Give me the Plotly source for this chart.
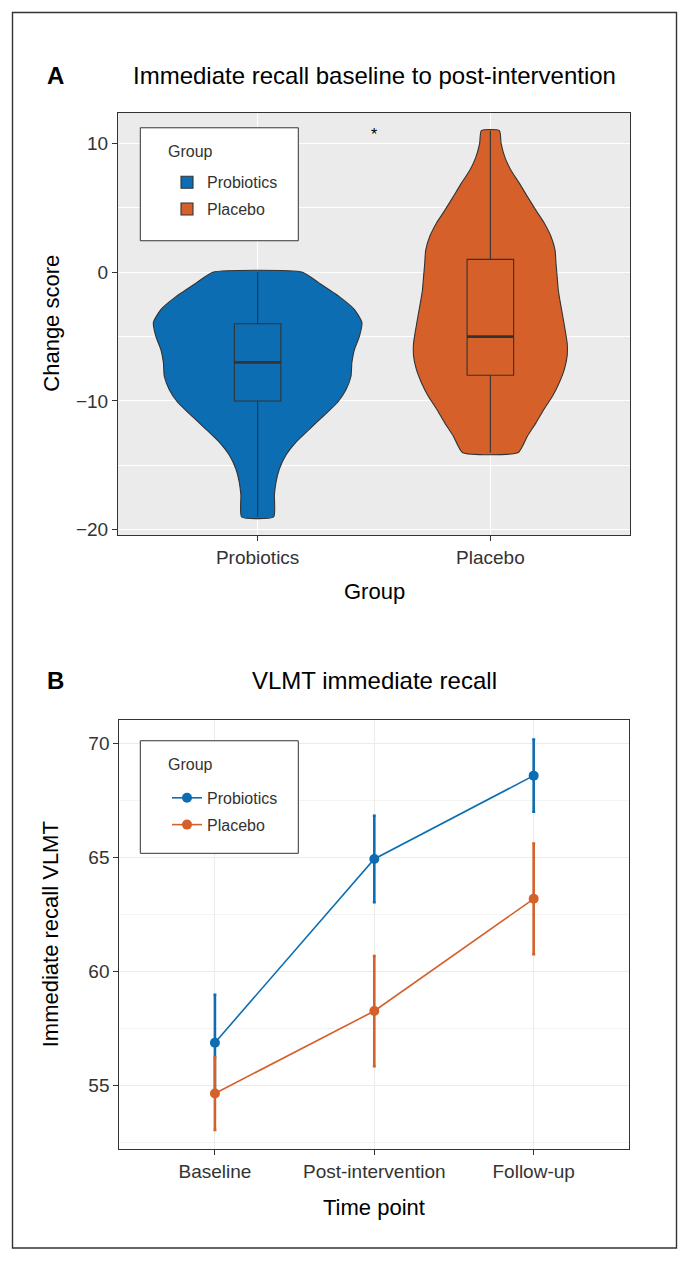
import plotly.graph_objects as go

# ---------------- DATA ----------------
groups = ["Probiotics", "Placebo"]
group_pos = [1, 2]

# violin outline: y levels and half-widths (category units)
probiotics_violin_y = [0, -0.85, -1.9, -2.9, -3.9, -5.0, -6.0, -7.0, -8.1, -9.1, -10.1,
                       -11.1, -12.2, -13.2, -14.2, -15.3, -16.3, -17.3, -19.0]
probiotics_violin_hw = [0.193, 0.265, 0.351, 0.416, 0.448, 0.437, 0.416, 0.405, 0.401, 0.380,
                        0.344, 0.287, 0.222, 0.165, 0.122, 0.093, 0.079, 0.072, 0.069]
placebo_violin_y = [11.0, 10.0, 8.9, 7.9, 6.9, 5.85, 4.8, 3.8, 2.75, 1.7, 0.7, -0.35, -1.4,
                    -2.4, -3.4, -4.45, -5.5, -6.5, -7.55, -8.55, -9.6, -10.6, -11.7, -12.7, -14.0]
placebo_violin_hw = [0.039, 0.046, 0.063, 0.089, 0.125, 0.160, 0.196, 0.232, 0.261, 0.278,
                     0.282, 0.287, 0.292, 0.301, 0.311, 0.321, 0.330, 0.330, 0.318, 0.297,
                     0.268, 0.232, 0.196, 0.160, 0.120]

# box statistics
box_min = [-19, -14]
box_q1 = [-10, -8]
box_median = [-7, -5]
box_q3 = [-4, 1]
box_max = [0, 11]

# panel B
timepoints = ["Baseline", "Post-intervention", "Follow-up"]
time_pos = [1, 2, 3]
probiotics_mean = [56.87, 64.94, 68.60]
probiotics_err = [2.10, 1.90, 1.58]
placebo_mean = [54.64, 58.26, 63.19]
placebo_err = [1.60, 2.42, 2.43]

# ---------------- STYLE ----------------
W, H = 690, 1266
BLUE = "#0C6DB2"
ORANGE = "#D6602A"
DARK = "#333333"
FONT = "Liberation Sans, Arial, sans-serif"
BOX_W = 0.2
A_XR = [0.4, 2.6]
A_YR = [-20.4, 12.4]


def px(x):
    return x / W


def py(y):
    return 1 - y / H


fig = go.Figure()

violins = [(probiotics_violin_y, probiotics_violin_hw), (placebo_violin_y, placebo_violin_hw)]
fills = [BLUE, ORANGE]

for i, (vy, vw) in enumerate(violins):
    pos = group_pos[i]
    xs = [pos - w for w in vw] + [pos + w for w in reversed(vw)] + [pos - vw[0]]
    ys = list(vy) + list(reversed(vy)) + [vy[0]]
    fig.add_trace(go.Scatter(
        x=xs, y=ys, mode="lines", fill="toself", fillcolor=fills[i],
        line=dict(color=DARK, width=1.1, shape="spline", smoothing=0.5),
        hoverinfo="skip", showlegend=False, xaxis="x", yaxis="y"))

for i, g in enumerate(groups):
    fig.add_trace(go.Box(
        x=[group_pos[i]], q1=[box_q1[i]], median=[box_median[i]], q3=[box_q3[i]],
        lowerfence=[box_min[i]], upperfence=[box_max[i]], name=g,
        width=BOX_W, whiskerwidth=0, fillcolor=fills[i],
        line=dict(color=DARK, width=1.1), boxpoints=False,
        xaxis="x3", yaxis="y3", legend="legend", legendgroup=f"A{i}"))
    fig.add_trace(go.Scatter(
        x=[group_pos[i] - BOX_W / 2, group_pos[i] + BOX_W / 2],
        y=[box_median[i], box_median[i]], mode="lines",
        line=dict(color=DARK, width=2.6), showlegend=False, hoverinfo="skip",
        xaxis="x3", yaxis="y3"))

# panel B lines
for j, (name, m, e, c) in enumerate([("Probiotics", probiotics_mean, probiotics_err, BLUE),
                                      ("Placebo", placebo_mean, placebo_err, ORANGE)]):
    fig.add_trace(go.Scatter(
        x=time_pos, y=m, name=name, mode="lines+markers",
        line=dict(color=c, width=1.6), marker=dict(color=c, size=10),
        error_y=dict(type="data", array=e, visible=True, color=c, thickness=2.6, width=1.5),
        xaxis="x2", yaxis="y2", legend="legend2", legendgroup=f"B{j}"))

axis_font = dict(family=FONT, size=19, color=DARK)

# plot areas (pixels)
A_l, A_r, A_t, A_b = 118, 630, 113, 537
B_l, B_r, B_t, B_b = 119.3, 629.3, 722.7, 1154

leg_font = dict(family=FONT, size=16, color=DARK)

fig.update_layout(
    width=W, height=H, autosize=False,
    margin=dict(l=0, r=0, t=0, b=0),
    paper_bgcolor="white", plot_bgcolor="rgba(0,0,0,0)",
    font=dict(family=FONT, color=DARK),
    boxmode="overlay",
    xaxis=dict(domain=[px(A_l), px(A_r)], range=A_XR, tickvals=group_pos, ticktext=groups,
               showgrid=True, gridcolor="white", gridwidth=1.3, zeroline=False,
               showline=True, mirror=True, linecolor=DARK, linewidth=1,
               ticks="outside", ticklen=5, tickcolor=DARK, tickfont=axis_font, anchor="y"),
    yaxis=dict(domain=[py(A_b), py(A_t)], range=A_YR, tickvals=[-20, -10, 0, 10],
               showgrid=True, gridcolor="white", gridwidth=1.3, zeroline=False,
               minor=dict(tickvals=[-15, -5, 5], showgrid=True, gridcolor="white", gridwidth=0.6),
               showline=True, mirror=True, linecolor=DARK, linewidth=1,
               ticks="outside", ticklen=5, tickcolor=DARK, tickfont=axis_font, anchor="x"),
    xaxis3=dict(overlaying="x", range=A_XR, visible=False, anchor="y3"),
    yaxis3=dict(overlaying="y", range=A_YR, visible=False, anchor="x3"),
    xaxis2=dict(domain=[px(B_l), px(B_r)], range=[0.4, 3.6], tickvals=time_pos, ticktext=timepoints,
                showgrid=True, gridcolor="#EBEBEB", gridwidth=1.3, zeroline=False,
                showline=True, mirror=True, linecolor=DARK, linewidth=1,
                ticks="outside", ticklen=5, tickcolor=DARK, tickfont=axis_font, anchor="y2"),
    yaxis2=dict(domain=[py(B_b), py(B_t)], range=[52.18, 71.05], tickvals=[55, 60, 65, 70],
                showgrid=True, gridcolor="#EBEBEB", gridwidth=1.3, zeroline=False,
                minor=dict(tickvals=[52.5, 57.5, 62.5, 67.5], showgrid=True, gridcolor="#F3F3F3", gridwidth=0.7),
                showline=True, mirror=True, linecolor=DARK, linewidth=1,
                ticks="outside", ticklen=5, tickcolor=DARK, tickfont=axis_font, anchor="x2"),
    legend=dict(x=px(167), y=py(166), xanchor="left", yanchor="top",
                bgcolor="rgba(0,0,0,0)", borderwidth=0,
                font=leg_font, tracegroupgap=3),
    legend2=dict(x=px(167), y=py(784), xanchor="left", yanchor="top",
                 bgcolor="rgba(0,0,0,0)", borderwidth=0,
                 font=leg_font, tracegroupgap=3),
)

shapes = [
    # grey panel background for A
    dict(type="rect", xref="x domain", yref="y domain", x0=0, x1=1, y0=0, y1=1,
         fillcolor="#EBEBEB", line=dict(width=0), layer="below"),
    # legend frames
    dict(type="rect", xref="paper", yref="paper", x0=px(140.3), x1=px(298.3), y0=py(241.7), y1=py(128.3),
         fillcolor="white", line=dict(color=DARK, width=1), layer="above"),
    dict(type="rect", xref="paper", yref="paper", x0=px(140.3), x1=px(298.3), y0=py(856.7), y1=py(743.7),
         fillcolor="white", line=dict(color=DARK, width=1), layer="above"),
    # outer figure border
    dict(type="rect", xref="paper", yref="paper", x0=px(12.5), x1=px(676.5), y0=py(1253), y1=py(12.5),
         fillcolor="rgba(0,0,0,0)", line=dict(color=DARK, width=1.4), layer="above"),
]
fig.update_layout(shapes=shapes)

ann = []
def text(x, y, s, size, bold=False, angle=0, xref="paper", yref="paper", color="black", xanchor="center"):
    ann.append(dict(x=x, y=y, xref=xref, yref=yref, text=f"<b>{s}</b>" if bold else s,
                    showarrow=False, textangle=angle, xanchor=xanchor, yanchor="middle",
                    font=dict(family=FONT, size=size, color=color)))

text(px(56), py(76), "A", 24, bold=True)
text(px(374), py(76), "Immediate recall baseline to post-intervention", 24)
text(px(55.5), py(683), "B", 24, bold=True)
text(px(374), py(683), "VLMT immediate recall", 24)
text(px(52), py(325), "Change score", 22, angle=-90)
text(px(374), py(594), "Group", 22)
text(px(50), py(938), "Immediate recall VLMT", 22, angle=-90)
text(px(374), py(1212), "Time point", 22)
text(1.5, 10.7, "*", 16, xref="x", yref="y")
# legend titles
text(px(166), py(152), "Group", 16, color=DARK, xanchor="left")
text(px(166), py(768), "Group", 16, color=DARK, xanchor="left")
fig.update_layout(annotations=ann)

fig.write_html("out.html", config={"displayModeBar": False},
               post_script="document.body.style.margin='0';document.body.style.overflow='hidden';")
